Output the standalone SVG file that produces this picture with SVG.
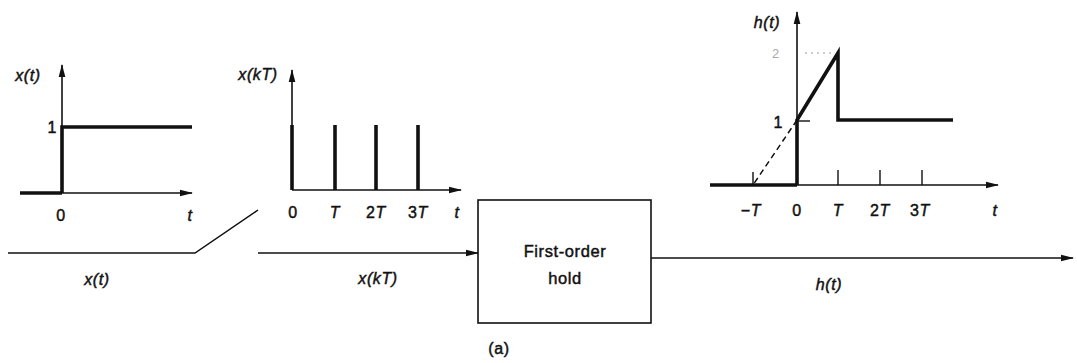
<svg xmlns="http://www.w3.org/2000/svg" width="1077" height="363" viewBox="0 0 1077 363">
<style>
.ax{stroke:#111;stroke-width:1.6;fill:none}
.th{stroke:#111;stroke-width:3.6;fill:none;stroke-linecap:butt}
.ln{stroke:#111;stroke-width:1.5;fill:none}
.tk{stroke:#111;stroke-width:1.4}
.dash{stroke:#111;stroke-width:1.5;stroke-dasharray:6,4;fill:none}
.dot{stroke:#999;stroke-width:1;stroke-dasharray:2,4;fill:none}
text{font-family:"Liberation Sans",Arial,sans-serif;font-size:16px;fill:#111;stroke:#111;stroke-width:0.45;letter-spacing:0.6px}
.i{font-style:italic}
.m{text-anchor:middle}
.e{text-anchor:end}
.faint{fill:#aaa;stroke:none;font-size:13px}
</style>
<defs>
<marker id="ar" viewBox="0 0 13 8" refX="12" refY="4" markerWidth="13" markerHeight="8" markerUnits="userSpaceOnUse" orient="auto">
<path d="M0,0.7 L13,4 L0,7.3 Z" fill="#111"/>
</marker>
</defs>

<g id="plot-xt">
<line class="ax" x1="62" y1="193" x2="62" y2="65" marker-end="url(#ar)"/>
<line class="ax" x1="62" y1="193" x2="192" y2="193" marker-end="url(#ar)"/>
<line class="th" x1="20" y1="193" x2="62" y2="193"/>
<polyline class="th" points="62,193 62,127 192,127"/>
<text class="m i" x="28" y="81">x(t)</text>
<text class="e" x="57" y="133">1</text>
<text class="m" x="61" y="221">0</text>
<text class="m i" x="190" y="221">t</text>
</g>

<g id="plot-xkt">
<line class="ax" x1="292" y1="190" x2="292" y2="70" marker-end="url(#ar)"/>
<line class="ax" x1="292" y1="190" x2="461" y2="190" marker-end="url(#ar)"/>
<line class="th" x1="292" y1="190" x2="292" y2="125"/>
<line class="th" x1="335" y1="190" x2="335" y2="125"/>
<line class="th" x1="376" y1="190" x2="376" y2="125"/>
<line class="th" x1="418" y1="190" x2="418" y2="125"/>
<text class="m i" x="258" y="80">x(kT)</text>
<text class="m" x="293" y="218">0</text>
<text class="m i" x="335" y="218">T</text>
<text class="m" x="376" y="218">2<tspan class="i">T</tspan></text>
<text class="m" x="418" y="218">3<tspan class="i">T</tspan></text>
<text class="m i" x="457" y="218">t</text>
</g>

<g id="plot-ht">
<line class="ax" x1="797" y1="185" x2="797" y2="12" marker-end="url(#ar)"/>
<line class="ax" x1="797" y1="185" x2="998" y2="185" marker-end="url(#ar)"/>
<line class="th" x1="710" y1="185" x2="797" y2="185"/>
<polyline class="th" points="797,185 797,120 838,53 838,120 953,120"/>
<line class="dash" x1="797" y1="120" x2="753" y2="185"/>
<line class="tk" x1="753" y1="172" x2="753" y2="185"/>
<line class="tk" x1="838" y1="170" x2="838" y2="185"/>
<line class="tk" x1="880" y1="170" x2="880" y2="185"/>
<line class="tk" x1="922" y1="170" x2="922" y2="185"/>
<line class="tk" x1="797" y1="121" x2="810" y2="121"/>
<line class="dot" x1="805" y1="53" x2="834" y2="53"/>
<text class="m i" x="767" y="28">h(t)</text>
<text class="faint" x="772" y="58">2</text>
<text class="e" x="783" y="128">1</text>
<text class="m" x="751" y="216">−<tspan class="i">T</tspan></text>
<text class="m" x="797" y="216">0</text>
<text class="m i" x="838" y="216">T</text>
<text class="m" x="880" y="216">2<tspan class="i">T</tspan></text>
<text class="m" x="920" y="216">3<tspan class="i">T</tspan></text>
<text class="m i" x="995" y="216">t</text>
</g>

<g id="sampler">
<polyline class="ln" points="8,253 195,253 258,210"/>
<text class="m i" x="97" y="285">x(t)</text>
</g>

<g id="hold">
<rect x="478" y="200" width="173" height="123" fill="#fff" stroke="#111" stroke-width="1.6"/>
<text class="m" x="565" y="257" style="font-size:16.5px">First-order</text>
<text class="m" x="565" y="284" style="font-size:16.5px">hold</text>
</g>

<g id="connectors">
<line class="ln" x1="258" y1="253" x2="478" y2="253" marker-end="url(#ar)"/>
<line class="ln" x1="651" y1="258" x2="1073" y2="258" marker-end="url(#ar)"/>
</g>

<text class="m i" x="378" y="284">x(kT)</text>
<text class="m i" x="829" y="290">h(t)</text>
<text class="m" x="499" y="354">(a)</text>
</svg>
